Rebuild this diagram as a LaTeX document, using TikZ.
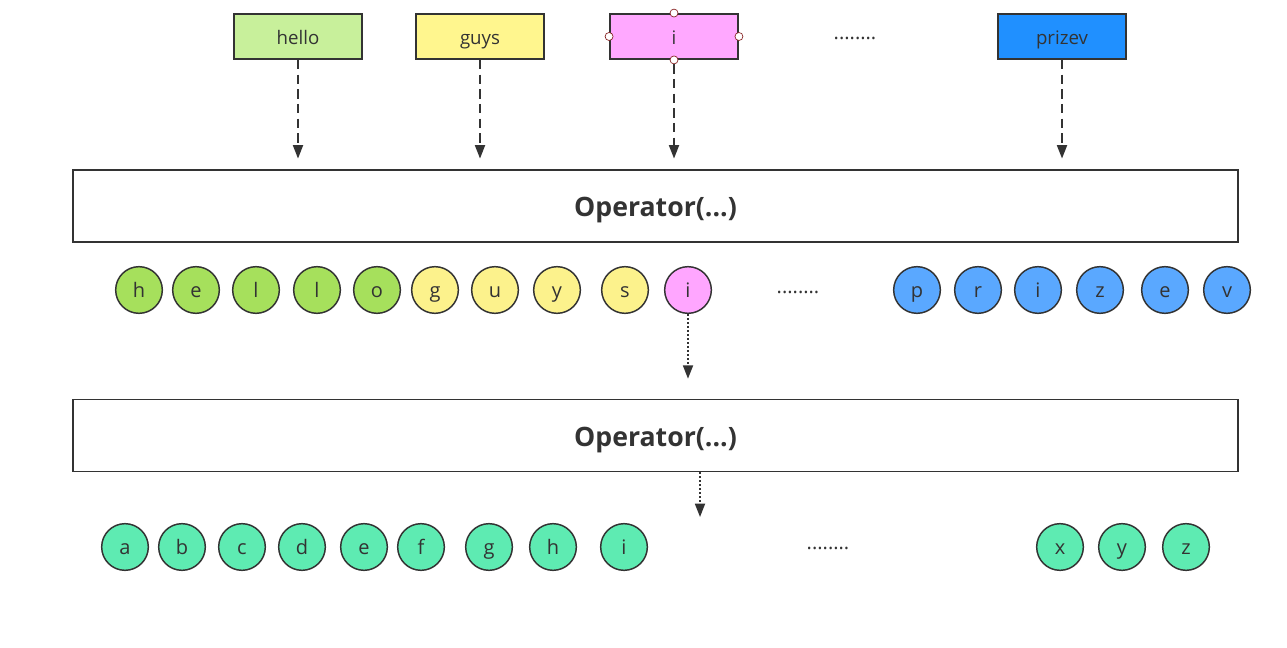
\documentclass[tikz,border=0pt]{standalone}
\usepackage{fontspec}
\setmainfont{Open Sans}
\usetikzlibrary{arrows.meta}
\definecolor{lc}{HTML}{333333}
\definecolor{bgreen}{HTML}{C8F09B}
\definecolor{byellow}{HTML}{FFF68E}
\definecolor{bpink}{HTML}{FFA8FF}
\definecolor{bblue}{HTML}{2090FF}
\definecolor{cgreen}{HTML}{A6E05C}
\definecolor{cyellow}{HTML}{FCF28C}
\definecolor{cpink}{HTML}{FFA6FF}
\definecolor{cblue}{HTML}{5AA8FF}
\definecolor{cteal}{HTML}{5EEBB2}
\tikzset{
  wordbox/.style={draw=lc, line width=1.4pt, minimum width=96pt, minimum height=33.75pt, inner sep=0pt, text height=14.5pt, text depth=3pt, font=\fontsize{14}{16}\selectfont, text=lc},
  opbox/.style={draw=lc, line width=1.2pt, fill=white, minimum width=873.75pt, minimum height=54pt, inner sep=0pt, text height=16pt, text depth=0pt, font=\fontsize{20}{24}\selectfont\bfseries, text=lc},
  letter/.style={circle, draw=lc, line width=1.1pt, minimum size=35pt, inner sep=0pt, text height=15pt, text depth=3.3pt, font=\fontsize{15}{18}\selectfont, text=lc},
  gdot/.style={font=\fontsize{15}{18}\selectfont, text=lc},
  dasharrow/.style={draw=lc, line width=1.3pt, dash pattern=on 7pt off 4pt, -{Triangle[length=10pt,width=7.5pt]}},
  dotarrow/.style={draw=lc, line width=1.3pt, dash pattern=on 1.5pt off 1.5pt, -{Triangle[length=10pt,width=7.5pt]}},
  handle/.style={circle, draw=red!40!lc, fill=white, line width=0.5pt, minimum size=6pt, inner sep=0pt}
}
\begin{document}
\begin{tikzpicture}[x=0.75pt, y=-0.75pt]
\useasboundingbox[fill=white] (0,0) rectangle (1287,648);
% top word boxes
\node[wordbox, fill=bgreen] (hello) at (298,36.5) {hello};
\node[wordbox, fill=byellow] (guys) at (480,36.5) {guys};
\node[wordbox, fill=bpink] (iw) at (674,36.5) {i};
\node[gdot] (dots1) at (855,38) {........};
\node[wordbox, fill=bblue] (prizev) at (1062,36.5) {prizev};
\foreach \a in {north,south,east,west} \node[handle] (h\a) at (iw.\a) {};
% operators
\node[opbox] (op1) at (655.5,206) {Operator(...)};
\node[opbox] (op2) at (655.5,435.5) {Operator(...)};
% arrows to op1
\foreach \b in {hello,guys,prizev}
  \draw[dasharrow, shorten >=8pt] (\b.south) -- (\b.south |- op1.north);
\draw[dasharrow, shorten >=8pt] (hsouth.south) -- (hsouth.south |- op1.north);
% first letter row
\foreach \l/\x/\c/\n in {h/139/cgreen/c1,e/196/cgreen/c2,l/256/cgreen/c3,l/317/cgreen/c4,o/377/cgreen/c5,g/435/cyellow/c6,u/495/cyellow/c7,y/557/cyellow/c8,s/625/cyellow/c9,i/688/cpink/c10,p/917/cblue/c11,r/978/cblue/c12,i/1038/cblue/c13,z/1100/cblue/c14,e/1165/cblue/c15,v/1227/cblue/c16}
  \node[letter, fill=\c] (\n) at (\x,290) {\l};
\node[gdot] (dots2) at (798,292) {........};
\draw[dotarrow, shorten >=15pt] (c10.south) -- (c10.south |- op2.north);
% second letter row
\foreach \l/\x/\n in {a/125/d1,b/182/d2,c/242/d3,d/302/d4,e/364/d5,f/421/d6,g/489/d7,h/553/d8,i/624/d9,x/1060/d10,y/1122/d11,z/1186/d12}
  \node[letter, fill=cteal] (\n) at (\x,547) {\l};
\node[gdot] (dots3) at (828,548) {........};
\coordinate (t2) at (700,517);
\draw[dotarrow] (op2.south -| t2) -- (t2);
\end{tikzpicture}
\end{document}
